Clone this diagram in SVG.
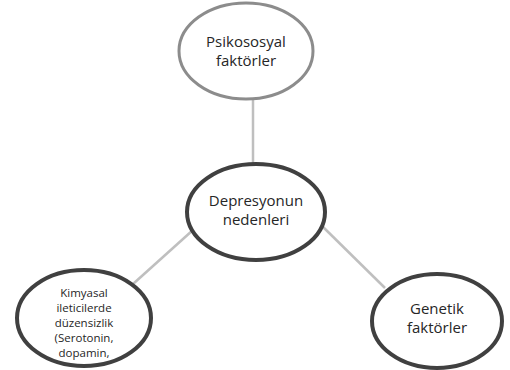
<svg xmlns="http://www.w3.org/2000/svg" width="510" height="370" viewBox="0 0 510 370">
<style>
.bg{fill:#fff}
.n{fill:#fff;stroke:#404040;stroke-width:4}
.n2{fill:#fff;stroke:#8c8c8c;stroke-width:3}
.c{stroke:#bfbfbf;stroke-width:2.5;fill:none}
text{font-family:"Open Sans","Noto Sans","DejaVu Sans",sans-serif;fill:#262626;text-anchor:middle}
.t{font-size:15px}
.s{font-size:11.5px}
</style>
<rect class="bg" x="0" y="0" width="510" height="370"/>
<g id="connectors">
<line class="c" x1="253" y1="100" x2="253" y2="165"/>
<line class="c" x1="133" y1="284" x2="193" y2="230"/>
<line class="c" x1="318" y1="222" x2="385" y2="288"/>
</g>
<g id="psikososyal">
<ellipse class="n2" cx="246" cy="51" rx="67" ry="48"/>
<text class="t" x="246" y="47">Psikososyal</text>
<text class="t" x="246" y="66">faktörler</text>
</g>
<g id="depresyon">
<ellipse class="n" cx="256" cy="212" rx="69" ry="48"/>
<text class="t" x="256" y="206">Depresyonun</text>
<text class="t" x="256" y="225">nedenleri</text>
</g>
<g id="kimyasal">
<ellipse class="n" cx="84" cy="318" rx="67" ry="48"/>
<text class="s" x="84" y="297">Kimyasal</text>
<text class="s" x="84" y="312">ileticilerde</text>
<text class="s" x="84" y="327">düzensizlik</text>
<text class="s" x="84" y="342">(Serotonin,</text>
<text class="s" x="84" y="357">dopamin,</text>
</g>
<g id="genetik">
<ellipse class="n" cx="437" cy="321" rx="65" ry="47"/>
<text class="t" x="437" y="314">Genetik</text>
<text class="t" x="437" y="333">faktörler</text>
</g>
</svg>
